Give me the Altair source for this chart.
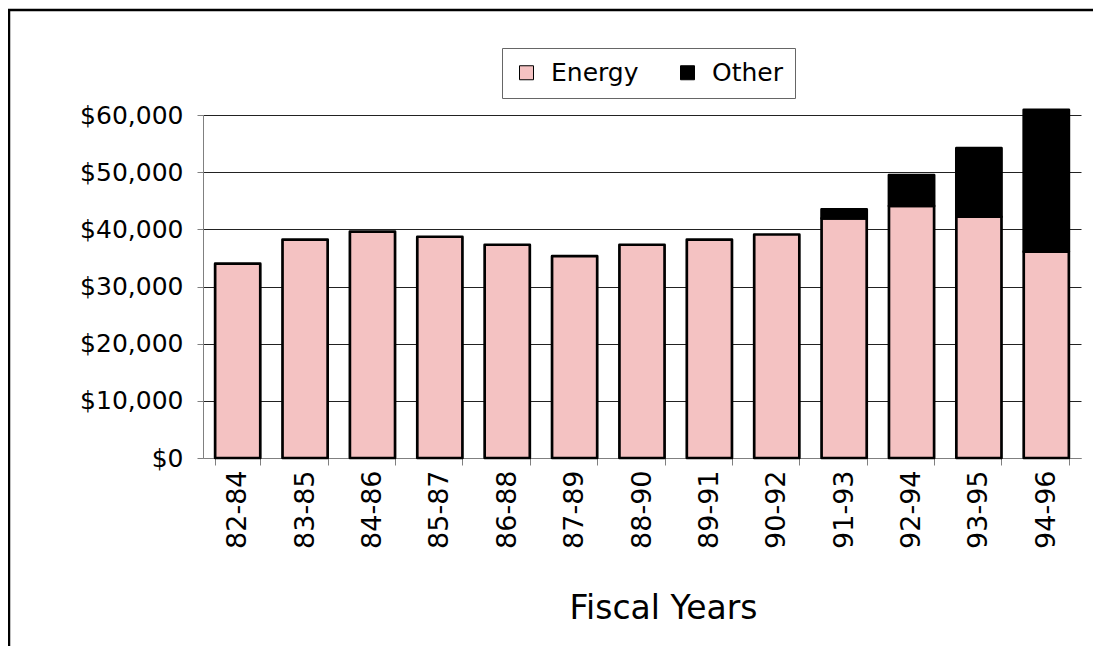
import altair as alt
import pandas as pd

years = ["82-84", "83-85", "84-86", "85-87", "86-88", "87-89", "88-90",
         "89-91", "90-92", "91-93", "92-94", "93-95", "94-96"]
energy = [34000, 38200, 39600, 38700, 37300, 35300, 37300,
          38200, 39100, 41900, 44100, 42200, 36100]
other = [0, 0, 0, 0, 0, 0, 0, 0, 0, 1600, 5400, 12000, 24800]
series = ["Energy", "Other"]
colors = ["#F4C2C2", "#000000"]
y_ticks = [0, 10000, 20000, 30000, 40000, 50000, 60000]

rows = []
for yr, e, o in zip(years, energy, other):
    rows.append({"year": yr, "series": "Energy", "value": e, "k": 0})
    rows.append({"year": yr, "series": "Other", "value": o, "k": 1})
df = pd.DataFrame(rows)

FONT = "DejaVu Sans"

frame_left = alt.Chart(alt.Data(values=[{}])).mark_rule(
    stroke="black", strokeWidth=2.5
).encode(x=alt.value(-194), y=alt.value(-106), y2=alt.value(900))

frame_top = alt.Chart(alt.Data(values=[{}])).mark_rule(
    stroke="black", strokeWidth=2.5
).encode(x=alt.value(-195), x2=alt.value(890), y=alt.value(-105))

bars = alt.Chart(df).transform_filter("datum.value > 0").mark_bar(
    stroke="black", strokeWidth=2.7, strokeJoin="round"
).encode(
    x=alt.X("year:N", sort=years,
            scale=alt.Scale(paddingInner=0.33, paddingOuter=0.18),
            axis=alt.Axis(title="Fiscal Years", labelAngle=270, labelAlign="right",
                          labelBaseline="middle", labelFontSize=27, labelPadding=5,
                          tickBand="extent", tickSize=7, tickColor="#808080",
                          domainColor="#808080", titleFontSize=33,
                          titleFontWeight="normal", titleX=460, titleY=160,
                          titleAlign="center", titleBaseline="alphabetic",
                          grid=False, labelColor="black", titleColor="black")),
    y=alt.Y("value:Q", stack="zero",
            scale=alt.Scale(domain=[0, 60000], nice=False),
            axis=alt.Axis(title=None, format="$,.0f", values=y_ticks, tickSize=6,
                          labelPadding=14, labelFontSize=25, labelColor="black",
                          gridColor={"condition": {"test": "datum.value === 0", "value": "#808080"},
                                     "value": "#222222"},
                          tickColor="#808080", domainColor="#808080")),
    color=alt.Color("series:N",
                    scale=alt.Scale(domain=series, range=colors),
                    legend=alt.Legend(title=None, orient="none", legendX=299, legendY=-67,
                                      direction="horizontal", symbolType="square",
                                      symbolSize=196, symbolStrokeColor="black",
                                      symbolStrokeWidth=1, labelFontSize=25,
                                      labelOffset=12, padding=12, strokeColor="#666666",
                                      fillColor="white", columnPadding=36,
                                      labelColor="black")),
    order=alt.Order("k:Q", sort="ascending")
)

chart = alt.layer(frame_left, frame_top, bars).properties(
    width=878, height=343,
    autosize=alt.AutoSizeParams(type="none"),
    padding={"left": 195, "top": 107, "right": 12, "bottom": 188}
).configure(font=FONT).configure_view(strokeWidth=0)

chart.save("out.html", embed_options={"renderer": "svg", "actions": False})
